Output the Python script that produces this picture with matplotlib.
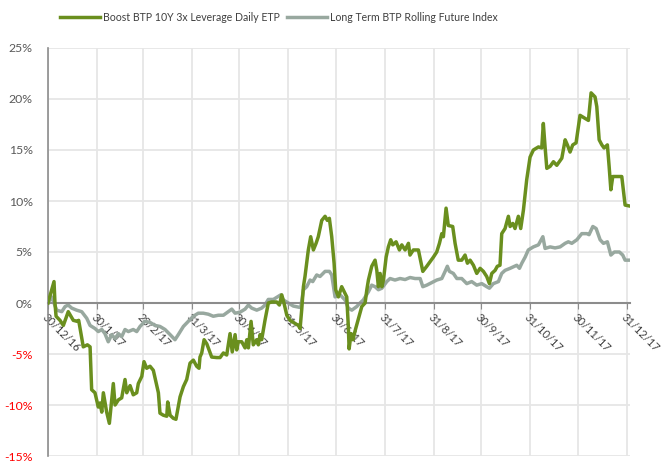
import matplotlib
matplotlib.use('Agg')
import matplotlib.pyplot as plt
import numpy as np
import pandas as pd

# days since 30/12/2016 and cumulative performance in %
boost_days = [0, 3.8, 4.4, 5.1, 7.6, 9.7, 11.8, 12.8, 16.0, 18.5, 19.4, 22.3, 24.9, 26.6,
              27.6, 29.7, 31.8, 32.9, 34.0, 35.0, 37.1, 38.8, 41.3, 42.4, 44.5, 46.6,
              48.7, 49.8, 51.9, 53.9, 56.1, 57.1, 59.3, 60.7, 62.4, 64.5, 66.6, 69.8,
              70.8, 72.9, 75.1, 75.7, 77.2, 79.2, 80.9, 83.5, 85.6, 87.7, 89.8, 91.9,
              94.0, 95.5, 96.1, 97.2, 98.7, 100.4, 103.5, 106.7, 108.8, 110.9, 113.0,
              115.1, 116.5, 118.3, 119.3, 120.3, 122.5, 124.6, 125.7, 126.7, 128.4,
              129.8, 132.0, 133.0, 134.1, 135.1, 137.2, 139.3, 141.5, 144.6, 146.3,
              147.8, 149.2, 151.0, 153.0, 156.2, 158.3, 159.4, 160.4, 161.5, 162.5,
              164.6, 166.1, 167.8, 169.5, 170.9, 173.1, 175.2, 176.6, 177.9, 179.4,
              180.9, 181.9, 183.6, 185.7, 188.9, 189.9, 190.4, 191.6, 192.8, 194.4,
              198.4, 200.5, 201.6, 202.6, 204.7, 206.8, 207.9, 208.9, 210.0, 211.1,
              212.1, 213.8, 215.2, 216.7, 218.0, 220.1, 222.2, 223.7, 225.8, 227.9,
              228.9, 231.0, 234.2, 235.7, 237.0, 239.5, 241.6, 243.7, 245.8, 247.5,
              249.0, 250.0, 251.7, 253.1, 255.9, 257.4, 259.4, 261.6, 263.7, 265.2,
              266.9, 269.0, 271.1, 273.2, 275.3, 277.4, 279.1, 280.6, 282.7, 284.1,
              285.8, 286.9, 289.0, 291.1, 292.2, 293.9, 295.3, 297.4, 298.9, 300.6,
              302.7, 304.8, 306.9, 310.1, 312.2, 313.2, 314.3, 315.4, 317.5, 319.6,
              321.7, 324.9, 327.0, 328.4, 330.1, 331.8, 333.9, 336.4, 339.6, 341.7,
              343.4, 345.9, 347.0, 348.5, 350.2, 351.6, 353.7, 354.8, 355.9, 357.1,
              362.8, 364.9, 368.0]
boost = [0.0, 2.1, 0.0, -1.3, -1.7, -2.2, -1.3, -0.85, -1.7, -1.8, -1.7, -4.3, -4.1, -4.3,
         -8.5, -8.8, -10.2, -9.8, -10.7, -8.8, -10.7, -11.8, -7.9, -10.0, -9.5, -9.3,
         -7.5, -8.8, -8.1, -9.0, -8.8, -7.9, -7.2, -5.75, -6.4, -6.2, -6.6, -8.8,
         -10.8, -11.0, -11.1, -9.7, -11.0, -11.3, -11.4, -9.2, -8.2, -7.5, -5.9, -5.6,
         -6.2, -6.4, -5.3, -4.9, -3.6, -4.0, -5.3, -5.35, -5.35, -4.9, -5.1,
         -3.0, -4.8, -3.1, -4.6, -3.8, -3.8, -4.4, -3.6, -4.4, -1.8,
         -4.1, -3.6, -4.1, -3.1, -3.6, -1.7, 0.0, 0.1, 0.1, -0.2,
         0.8, 0.0, -1.2, -1.7, -2.0, -2.2, -2.5, -0.7, 1.6, 2.6,
         5.2, 6.5, 5.2, 5.85, 6.5, 8.1, 8.5, 8.1, 8.3, 6.5,
         3.9, 1.3, 0.6, 1.6, 0.6, -2.3, -4.5, -3.0, -3.6, -2.6,
         -0.35, 0.0, 1.3, 2.25, 3.6, 4.2, 3.2, 1.6, 2.9, 1.6,
         2.25, 4.5, 5.5, 6.2, 5.7, 6.0, 5.2, 5.7, 5.2, 5.85,
         4.7, 5.2, 5.2, 4.05, 3.1, 3.6, 4.05, 4.5, 5.0, 5.85,
         6.8, 6.5, 9.3, 7.6, 7.5, 5.85, 4.2, 4.2, 4.7, 3.9,
         4.2, 3.7, 2.9, 3.4, 3.1, 2.6, 1.9, 2.9, 3.2, 3.6,
         3.7, 6.8, 7.3, 8.5, 7.5, 7.8, 7.3, 8.5, 7.3, 9.1,
         12.1, 14.3, 15.0, 15.3, 15.2, 17.6, 15.3, 13.2, 13.4, 13.85,
         13.5, 14.2, 16.0, 15.5, 14.8, 15.5, 15.7, 18.4, 18.1, 17.9,
         20.6, 20.2, 19.25, 16.0, 15.5, 15.2, 15.5, 13.4, 11.1, 12.4,
         12.4, 9.6, 9.5]

index_days = [0, 2.3, 3.8, 5.5, 8.7, 10.8, 12.8, 15.0, 18.1, 21.3, 24.5, 26.6, 29.7,
              31.8, 34.0, 36.0, 38.1, 40.3, 42.4, 44.5, 46.6, 48.7, 50.8, 53.9, 56.1,
              58.2, 61.3, 64.5, 67.7, 70.8, 74.0, 77.2, 80.3, 82.4, 85.6, 88.7, 91.9,
              95.0, 98.2, 101.4, 104.5, 107.7, 110.9, 114.0, 116.2, 118.3, 121.4,
              124.6, 126.7, 128.8, 132.0, 135.1, 137.2, 139.3, 142.5, 144.6, 147.2,
              148.8, 152.0, 155.1, 158.3, 159.8, 161.5, 163.6, 165.7, 167.4, 169.9,
              172.0, 175.2, 177.9, 179.4, 181.5, 184.7, 187.8, 189.9, 192.1, 195.2,
              197.3, 199.4, 202.6, 204.7, 206.8, 208.9, 211.1, 214.2, 216.3, 219.4,
              222.6, 225.8, 228.9, 232.1, 235.3, 237.0, 239.5, 242.7, 245.8, 249.0,
              251.1, 252.5, 253.8, 256.3, 258.5, 261.6, 264.8, 267.9, 271.1, 274.3,
              277.4, 279.1, 281.6, 284.8, 286.9, 289.0, 292.2, 296.4, 298.1, 299.6,
              301.7, 303.7, 306.9, 310.1, 312.9, 314.3, 317.5, 320.6, 323.8, 327.0,
              329.0, 331.2, 334.4, 337.5, 340.7, 342.1, 344.5, 346.6, 349.1, 351.2,
              353.7, 355.9, 358.1, 361.3, 363.4, 364.9, 368.0]
index = [0.0, 0.6, 0.0, -0.7, -0.85, -0.35, -0.2, -0.5, -0.7, -0.85, -1.5, -2.2, -2.5,
         -2.8, -2.6, -3.0, -3.8, -3.1, -3.5, -3.0, -3.3, -2.6, -2.8, -2.6, -2.8,
         -2.3, -1.8, -1.9, -2.2, -2.3, -2.6, -3.1, -3.6, -3.1, -2.3, -1.8, -1.3,
         -1.0, -1.0, -1.1, -1.3, -1.2, -1.2, -0.85, -0.6, -1.0, -0.9,
         -0.6, -0.2, -0.5, -0.7, -0.5, -0.2, 0.35, 0.35, 0.55, 0.8,
         0.3, 0.0, -0.3, -0.4, -0.45, 1.3, 1.6, 2.25, 2.1, 2.75,
         2.6, 3.1, 3.1, 2.75, 0.6, 0.8, 0.3, -0.5, -0.7, -0.35,
         0.0, 0.3, 1.1, 1.75, 1.6, 1.3, 1.45, 2.1, 2.4, 2.25,
         2.4, 2.3, 2.5, 2.4, 2.4, 1.6, 1.75, 2.0, 2.25, 2.4,
         3.1, 3.6, 3.1, 2.9, 2.4, 2.4, 1.9, 2.1, 1.75, 1.9,
         1.6, 1.45, 1.9, 2.1, 2.9, 3.2, 3.4, 3.7, 3.4, 3.9,
         4.5, 5.2, 5.5, 5.7, 6.5, 5.35, 5.5, 5.4, 5.5, 5.85,
         6.0, 5.85, 6.2, 6.8, 6.8, 6.7, 7.5, 7.3, 6.2, 5.85,
         6.0, 4.7, 5.0, 5.0, 4.7, 4.2, 4.2]

tick_dates = ['2016-12-30', '2017-01-30', '2017-02-28', '2017-03-31', '2017-04-30',
              '2017-05-31', '2017-06-30', '2017-07-31', '2017-08-31', '2017-09-30',
              '2017-10-31', '2017-11-30', '2017-12-31']
tick_labels = ['30/12/16', '30/1/17', '28/2/17', '31/3/17', '30/4/17', '31/5/17',
               '30/6/17', '31/7/17', '31/8/17', '30/9/17', '31/10/17', '30/11/17',
               '31/12/17']
y_ticks = [25, 20, 15, 10, 5, 0, -5, -10, -15]

plt.rcParams['font.family'] = ['Lato', 'DejaVu Sans']

start = pd.Timestamp('2016-12-30')
boost_dates = start + pd.to_timedelta(boost_days, unit='D')
index_dates = start + pd.to_timedelta(index_days, unit='D')

fig = plt.figure(figsize=(6.61, 4.61), dpi=100)
ax = fig.add_axes([48 / 661, 5 / 461, (630 - 48) / 661, (456 - 48) / 461])

green = '#6a8f1e'
grey = '#98a89f'
l1, = ax.plot(boost_dates, boost, color=green, lw=2.5, solid_joinstyle='round',
              label='Boost BTP 10Y 3x Leverage Daily ETP', zorder=3)
l2, = ax.plot(index_dates, index, color=grey, lw=2.5, solid_joinstyle='round',
              label='Long Term BTP Rolling Future Index', zorder=2)

ax.set_ylim(-15, 25)
ax.set_xlim(start, start + pd.Timedelta(days=368))

ticks = pd.to_datetime(tick_dates)
ax.set_xticks(ticks, labels=tick_labels)
ax.set_yticks(y_ticks, labels=[f'{v}%' for v in y_ticks])

# month-end grid and horizontal grid
for t in ticks:
    ax.axvline(t, color='#e6e6e6', lw=1.3, zorder=0)
ax.yaxis.grid(True, color='#e6e6e6', lw=1.3, zorder=0)
ax.set_axisbelow(True)

for s in ['top', 'right']:
    ax.spines[s].set_visible(False)
ax.spines['left'].set_color('#8c8c8c')
ax.spines['left'].set_linewidth(1.2)
ax.spines['bottom'].set_position(('data', 0))
ax.spines['bottom'].set_color('#8c8c8c')
ax.spines['bottom'].set_linewidth(1.5)
ax.tick_params(axis='x', length=4, color='#8c8c8c', pad=2, labelsize=8,
               labelcolor='#404040')
ax.tick_params(axis='y', length=0, pad=11, labelsize=8.8)

for lab in ax.get_xticklabels():
    lab.set_rotation(-45)
    lab.set_ha('left')
    lab.set_va('top')
    lab.set_rotation_mode('anchor')
for lab, v in zip(ax.get_yticklabels(), y_ticks):
    lab.set_color('#ff0000' if v < 0 else '#595959')

# one legend entry per series, side by side above the plot
leg_kw = dict(loc='upper left', frameon=False, fontsize=7.6, handlelength=3.8,
              handletextpad=0.3, borderpad=0, borderaxespad=0, labelcolor='#404040')
leg1 = fig.legend(handles=[l1], bbox_to_anchor=(60 / 661, 1 - 12 / 461), **leg_kw)
leg2 = fig.legend(handles=[l2], bbox_to_anchor=(287 / 661, 1 - 12 / 461), **leg_kw)

fig.savefig('out.png', dpi=100)
